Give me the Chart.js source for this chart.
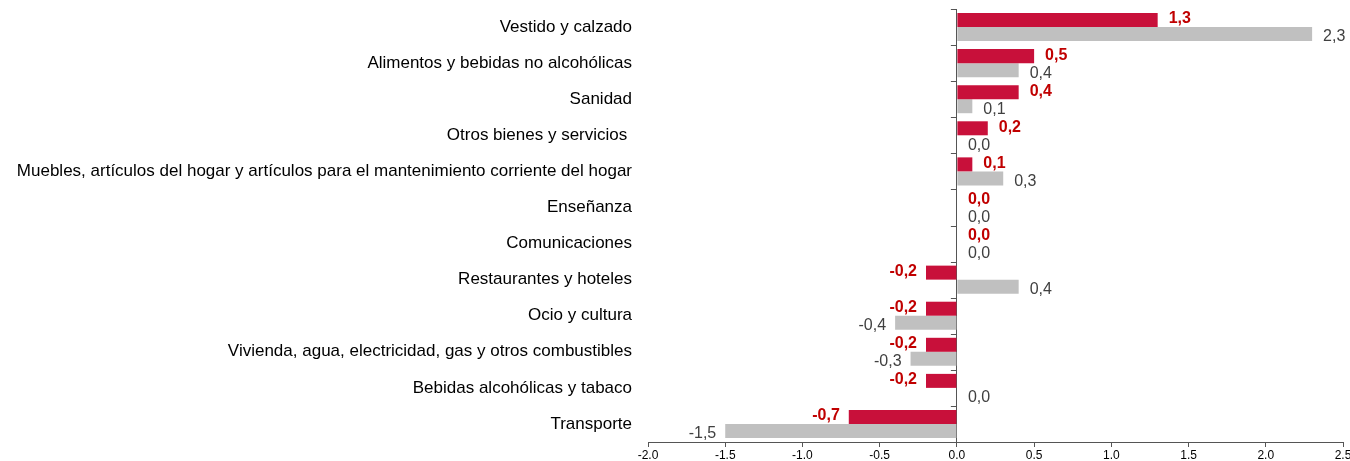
<!DOCTYPE html>
<html>
<head>
<meta charset="utf-8">
<script src="https://cdn.jsdelivr.net/npm/chart.js@4/dist/chart.umd.min.js"></script>
<style>
    html, body { margin: 0; padding: 0; background: #fff; }
    #wrap { width: 1350px; height: 461px; position: relative; }
</style>
</head>
<body>
<div id="wrap"><canvas id="chart1"></canvas></div>
<script>
const categories = [
    'Vestido y calzado',
    'Alimentos y bebidas no alcohólicas',
    'Sanidad',
    'Otros bienes y servicios ',
    'Muebles, artículos del hogar y artículos para el mantenimiento corriente del hogar',
    'Enseñanza',
    'Comunicaciones',
    'Restaurantes y hoteles',
    'Ocio y cultura',
    'Vivienda, agua, electricidad, gas y otros combustibles',
    'Bebidas alcohólicas y tabaco',
    'Transporte'
];
const redValues = [1.3, 0.5, 0.4, 0.2, 0.1, 0.0, 0.0, -0.2, -0.2, -0.2, -0.2, -0.7];
const greyValues = [2.3, 0.4, 0.1, 0.0, 0.3, 0.0, 0.0, 0.4, -0.4, -0.3, 0.0, -1.5];

const font = "'Liberation Sans', Arial, sans-serif";

// value labels at the end of each bar, comma decimals
const barLabels = {
    id: 'barLabels',
    afterDatasetsDraw(chart) {
        const ctx = chart.ctx;
        ctx.save();
        chart.data.datasets.forEach(function (ds, i) {
            const meta = chart.getDatasetMeta(i);
            const isRed = i === 0;
            ctx.font = isRed ? 'bold 16px ' + font : '16px ' + font;
            ctx.fillStyle = isRed ? '#c00000' : '#404040';
            ctx.textBaseline = 'middle';
            meta.data.forEach(function (bar, j) {
                const v = ds.data[j];
                const txt = v.toFixed(1).replace('.', ',');
                const dy = isRed ? -1 : 3;
                if (v < 0) {
                    ctx.textAlign = 'right';
                    ctx.fillText(txt, bar.x - 9, bar.y + dy);
                } else {
                    ctx.textAlign = 'left';
                    ctx.fillText(txt, bar.x + 11, bar.y + dy);
                }
            });
        });
        ctx.restore();
    }
};

// small tick marks on the zero axis between categories
const zeroTicks = {
    id: 'zeroTicks',
    afterDraw(chart) {
        const ctx = chart.ctx;
        const x0 = chart.scales.x.getPixelForValue(0);
        const step = (chart.chartArea.bottom - chart.chartArea.top) / categories.length;
        ctx.save();
        ctx.strokeStyle = '#555';
        ctx.lineWidth = 1;
        ctx.beginPath();
        for (let k = 0; k <= categories.length; k++) {
            const yy = Math.round(chart.chartArea.top + k * step) + 0.5;
            ctx.moveTo(x0 - 6, yy);
            ctx.lineTo(x0, yy);
        }
        ctx.stroke();
        ctx.restore();
    }
};

const ctx = document.getElementById('chart1').getContext('2d');
new Chart(ctx, {
    type: 'bar',
    data: {
        labels: categories,
        datasets: [{
                label: 'red',
                data: redValues,
                backgroundColor: '#c8103a',
                barPercentage: 1,
                categoryPercentage: 0.776
            }, {
                label: 'grey',
                data: greyValues,
                backgroundColor: '#c0c0c0',
                barPercentage: 1,
                categoryPercentage: 0.776
            }]
    },
    options: {
        indexAxis: 'y',
        responsive: true,
        maintainAspectRatio: false,
        animation: false,
        layout: {padding: {top: 9, right: 7, left: 0, bottom: 0}},
        plugins: {
            legend: {display: false},
            tooltip: {enabled: false}
        },
        scales: {
            x: {
                min: -2,
                max: 2.5,
                ticks: {
                    stepSize: 0.5,
                    padding: 1,
                    color: '#000',
                    font: {family: font, size: 12},
                    callback: v => v.toFixed(1)
                },
                grid: {
                    color: c => (c.tick && c.tick.value === 0) ? '#555' : 'transparent',
                    tickColor: '#555',
                    tickLength: 5
                },
                border: {display: true, color: '#555'},
                afterFit: s => { s.height = 19; s.paddingRight = 0; s.paddingLeft = 0; }
            },
            y: {
                ticks: {
                    padding: 16,
                    color: '#000',
                    font: {family: font, size: 17}
                },
                grid: {display: false, drawTicks: false},
                border: {display: false},
                afterFit: s => { s.width = 648; s.paddingTop = 0; s.paddingBottom = 0; }
            }
        }
    },
    plugins: [barLabels, zeroTicks]
});
</script>
</body>
</html>
